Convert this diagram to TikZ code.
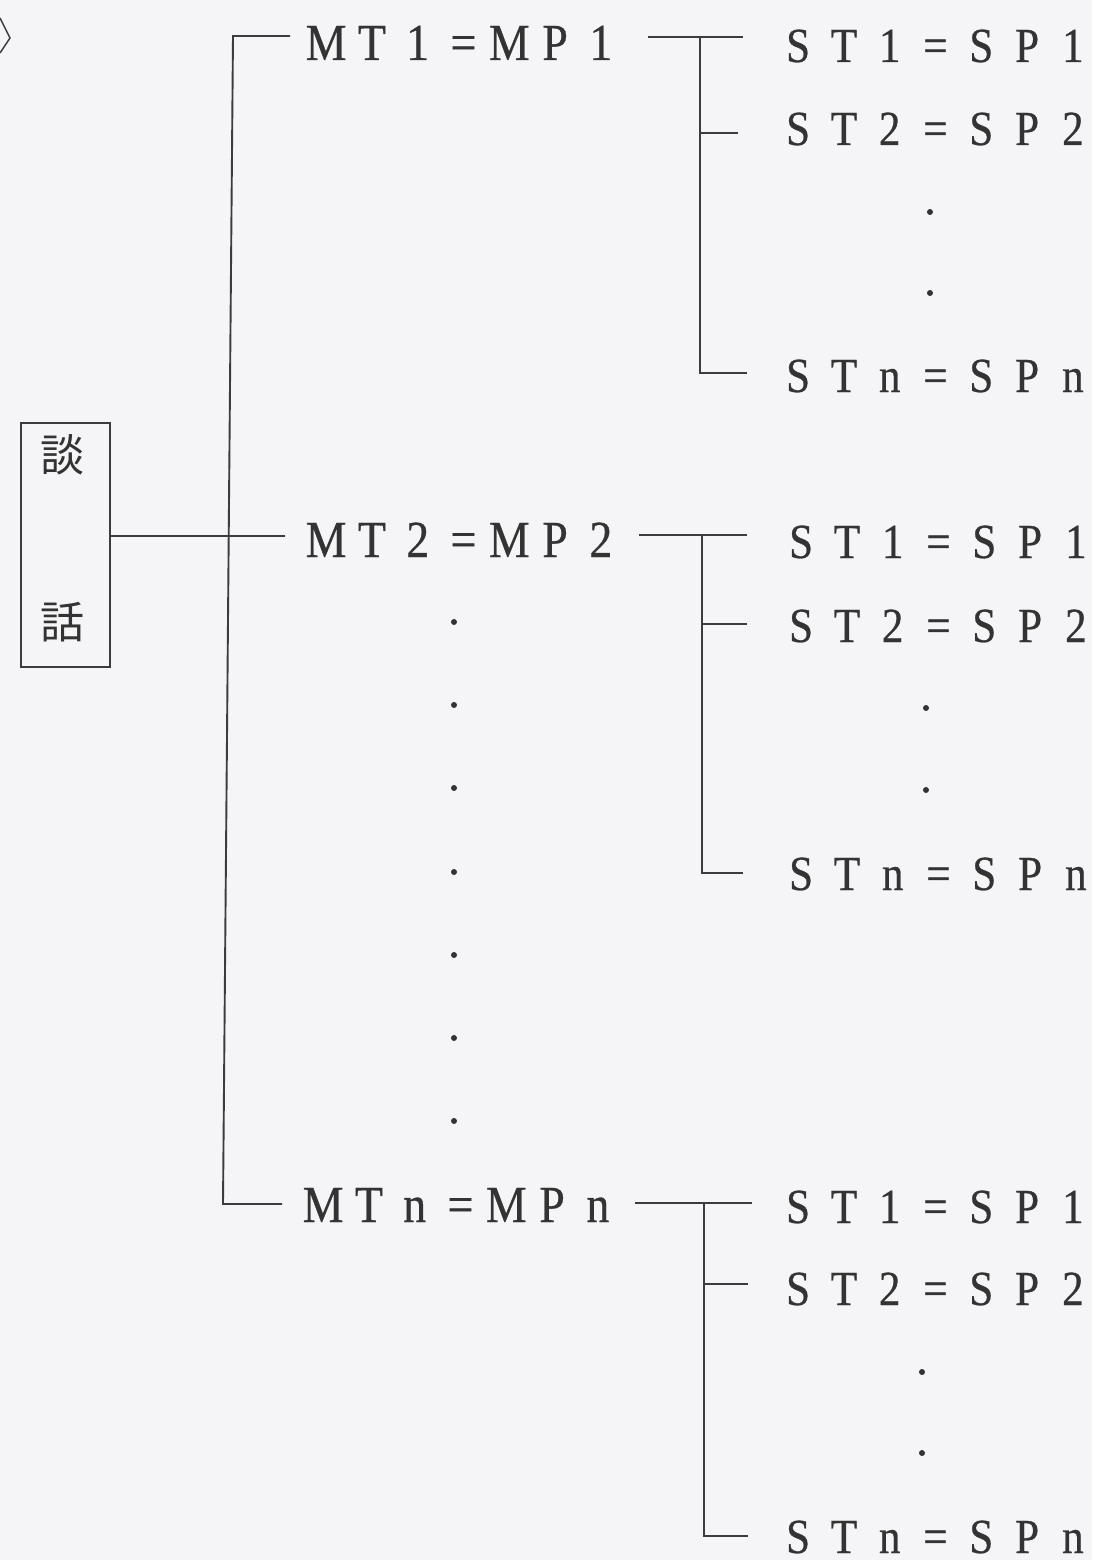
\documentclass[tikz,border=0pt]{standalone}
\usepackage{fontspec}
\usepackage{graphicx}
\setmainfont{Liberation Serif}
\newfontfamily\lblfont[FakeBold=0.6]{Liberation Serif}
\newfontfamily\cjk{Noto Sans CJK JP}
\definecolor{bgc}{HTML}{F5F4F6}
\definecolor{lc}{HTML}{3C3C3C}
\definecolor{tc}{HTML}{333333}
\def\spc#1{\spcloop#1\relax}
\def\spcloop#1{\ifx#1\relax\else\makebox[45.8pt]{\scalebox{0.88}[1]{#1}}\expandafter\spcloop\fi}
\begin{document}
\begin{tikzpicture}[x=1pt,y=-1pt,
  ln/.style={line width=1.9pt, draw=lc},
  lab/.style={anchor=base west, inner sep=0pt, text=tc, font=\lblfont\fontsize{52}{52}\selectfont},
  slab/.style={anchor=base west, inner sep=0pt, text=tc, font=\lblfont\fontsize{49}{49}\selectfont},
  dotn/.style={circle, fill=tc, inner sep=0pt, minimum size=6pt},
  cj/.style={inner sep=0pt, text=tc, font=\cjk\fontsize{44}{44}\selectfont},
  boxn/.style={draw=lc, line width=1.9pt, minimum width=89pt, minimum height=244pt, inner sep=0pt}]
\fill[bgc] (0,0) rectangle (1092,1560);
\useasboundingbox (0,0) rectangle (1092,1560);
% partial bracket glyph at top left
\draw[ln, line width=1.5pt] (0,18) -- (10,38) -- (0,53);
% root box
\node[boxn] (box) at (65.5,545) {};
\node[cj] (dan) at (62,455) {談};
\node[cj] (wa) at (62,622) {話};
% main level labels
\node[lab] (mt1) at (303,60) {\spc{MT1=MP1}};
\node[lab] (mt2) at (303,557) {\spc{MT2=MP2}};
\node[lab] (mt3) at (300,1222) {\spc{MTn=MPn}};
% main trunk
\coordinate (m0) at (110,536);
\coordinate (m0e) at (285,536);
\coordinate (mtop) at (233,36);
\coordinate (mtope) at (290,36);
\coordinate (mbot) at (223,1204);
\coordinate (mbote) at (282,1204);
\draw[ln] (mtope) -- (mtop) -- (mbot) -- (mbote);
\draw[ln] (m0) -- (m0e);
% main dots
\foreach \y [count=\i] in {622,705,788,872,955,1038,1121}
  \node[dotn] (md\i) at (454,\y) {};
% group 1
\node[slab] (s11) at (775,62) {\spc{ST1=SP1}};
\node[slab] (s12) at (775,145) {\spc{ST2=SP2}};
\node[slab] (s1n) at (775,392) {\spc{STn=SPn}};
\node[dotn] (d11) at (930,212) {};
\node[dotn] (d12) at (930,293) {};
\coordinate (g1a) at (648,37);
\coordinate (g1b) at (743,37);
\coordinate (g1j) at (700,37);
\coordinate (g1c) at (700,133);
\coordinate (g1ce) at (738,133);
\coordinate (g1n) at (700,373);
\coordinate (g1ne) at (747,373);
\draw[ln] (g1a) -- (g1b);
\draw[ln] (g1j) -- (g1n) -- (g1ne);
\draw[ln] (g1c) -- (g1ce);
% group 2
\node[slab] (s21) at (778,558) {\spc{ST1=SP1}};
\node[slab] (s22) at (778,642) {\spc{ST2=SP2}};
\node[slab] (s2n) at (778,890) {\spc{STn=SPn}};
\node[dotn] (d21) at (926,708) {};
\node[dotn] (d22) at (926,790) {};
\coordinate (g2a) at (639,535);
\coordinate (g2b) at (747,535);
\coordinate (g2j) at (702,535);
\coordinate (g2c) at (702,624);
\coordinate (g2ce) at (747,624);
\coordinate (g2n) at (702,873);
\coordinate (g2ne) at (743,873);
\draw[ln] (g2a) -- (g2b);
\draw[ln] (g2j) -- (g2n) -- (g2ne);
\draw[ln] (g2c) -- (g2ce);
% group 3
\node[slab] (s31) at (775,1223) {\spc{ST1=SP1}};
\node[slab] (s32) at (775,1305) {\spc{ST2=SP2}};
\node[slab] (s3n) at (775,1553) {\spc{STn=SPn}};
\node[dotn] (d31) at (922,1372) {};
\node[dotn] (d32) at (922,1453) {};
\coordinate (g3a) at (635,1203);
\coordinate (g3b) at (752,1203);
\coordinate (g3j) at (704,1203);
\coordinate (g3c) at (704,1284);
\coordinate (g3ce) at (748,1284);
\coordinate (g3n) at (704,1536);
\coordinate (g3ne) at (748,1536);
\draw[ln] (g3a) -- (g3b);
\draw[ln] (g3j) -- (g3n) -- (g3ne);
\draw[ln] (g3c) -- (g3ce);
\end{tikzpicture}
\end{document}
